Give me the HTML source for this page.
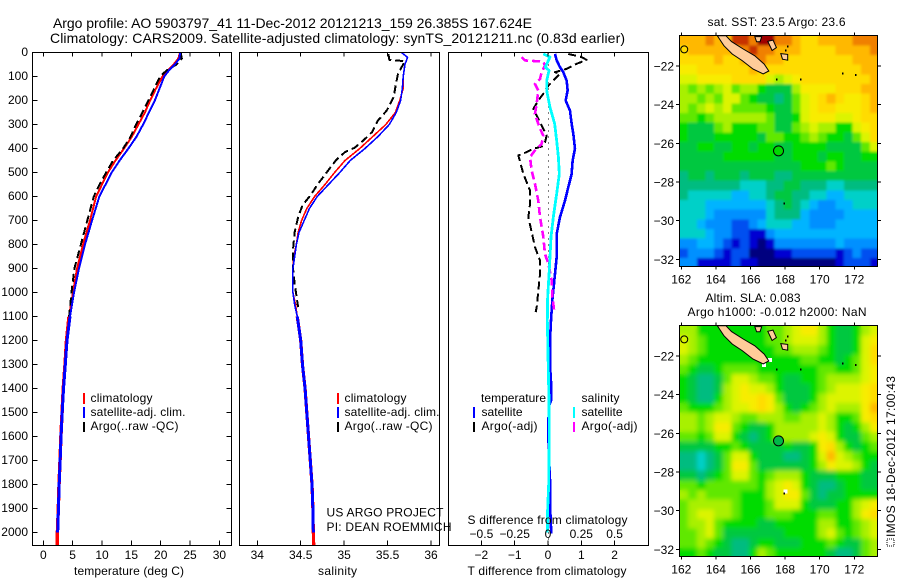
<!DOCTYPE html>
<html lang="en">
<head>
<meta charset="utf-8">
<title>Argo profile 5903797_41</title>
<style>
  html, body { margin: 0; padding: 0; background: #fff; }
  svg { display: block; font-family: "Liberation Sans", sans-serif; font-size: 12px; fill: #000; }
  text { fill: #000; stroke: none; }
  .crisp { shape-rendering: crispEdges; }
  .frame { fill: none; stroke: #000; stroke-width: 1; shape-rendering: crispEdges; }
</style>
</head>
<body>
<svg id="chart" xmlns="http://www.w3.org/2000/svg" width="900" height="580" viewBox="0 0 900 580">
  <defs>
    <clipPath id="clip-map-sst"><rect x="680" y="36" width="197.5" height="230.5"/></clipPath>
    <clipPath id="clip-map-sla"><rect x="680" y="326" width="197.5" height="230.5"/></clipPath>
    <clipPath id="clip-p1"><rect x="33" y="53" width="198" height="492"/></clipPath>
    <clipPath id="clip-p2"><rect x="240" y="53" width="199" height="492"/></clipPath>
    <clipPath id="clip-p3"><rect x="449" y="53" width="199" height="492"/></clipPath>
    <filter id="soften-sst" filterUnits="userSpaceOnUse" x="670" y="26" width="220" height="250">
      <feGaussianBlur in="SourceGraphic" stdDeviation="1.4" result="b"/>
      <feMerge><feMergeNode in="SourceGraphic"/><feMergeNode in="b"/></feMerge>
    </filter>
    <filter id="soften-sla" filterUnits="userSpaceOnUse" x="670" y="316" width="220" height="250">
      <feGaussianBlur in="SourceGraphic" stdDeviation="2.4" result="b"/>
      <feMerge><feMergeNode in="SourceGraphic"/><feMergeNode in="b"/></feMerge>
    </filter>
  </defs>

  <text x="53" y="28" font-size="14" textLength="479" lengthAdjust="spacing">Argo profile: AO 5903797_41 11-Dec-2012 20121213_159 26.385S 167.624E</text>
  <text x="50" y="43" font-size="14" textLength="575" lengthAdjust="spacing">Climatology: CARS2009. Satellite-adjusted climatology: synTS_20121211.nc (0.83d earlier)</text>

  <g id="panel-temperature"></g>
  <g id="panel-salinity"></g>
  <g id="panel-difference"></g>
  <g id="map-sst"></g>
  <g id="map-sla"></g>

  <text x="74" y="575" textLength="110" lengthAdjust="spacing">temperature (deg C)</text>
  <text x="318" y="575" textLength="39" lengthAdjust="spacing">salinity</text>
  <text x="467.5" y="575" textLength="159" lengthAdjust="spacing">T difference from climatology</text>
  <text x="467.5" y="524" textLength="160" lengthAdjust="spacing">S difference from climatology</text>

  <g>
    <rect class="crisp" x="83" y="393" width="2" height="11" fill="#ff0000"/>
    <rect class="crisp" x="83" y="407" width="2" height="11" fill="#0000ff"/>
    <rect class="crisp" x="83" y="422" width="2" height="10" fill="#000000"/>
    <text x="90.5" y="402" textLength="62" lengthAdjust="spacing">climatology</text>
    <text x="90.5" y="416" textLength="95" lengthAdjust="spacing">satellite-adj. clim.</text>
    <text x="90.5" y="430" textLength="88" lengthAdjust="spacing">Argo(..raw -QC)</text>
  </g>
  <g>
    <rect class="crisp" x="337" y="393" width="2" height="11" fill="#ff0000"/>
    <rect class="crisp" x="337" y="407" width="2" height="11" fill="#0000ff"/>
    <rect class="crisp" x="337" y="422" width="2" height="10" fill="#000000"/>
    <text x="344.5" y="402" textLength="62" lengthAdjust="spacing">climatology</text>
    <text x="344.5" y="416" textLength="95" lengthAdjust="spacing">satellite-adj. clim.</text>
    <text x="344.5" y="430" textLength="88" lengthAdjust="spacing">Argo(..raw -QC)</text>
  </g>
  <g>
    <text x="481" y="402" textLength="65" lengthAdjust="spacing">temperature</text>
    <rect class="crisp" x="473" y="407" width="2" height="11" fill="#0000ff"/>
    <rect class="crisp" x="473" y="422" width="2" height="10" fill="#000000"/>
    <text x="481.5" y="416" textLength="41" lengthAdjust="spacing">satellite</text>
    <text x="481.5" y="430" textLength="56" lengthAdjust="spacing">Argo(-adj)</text>
    <text x="581.5" y="402" textLength="38" lengthAdjust="spacing">salinity</text>
    <rect class="crisp" x="573" y="407" width="2" height="11" fill="#00ffff"/>
    <rect class="crisp" x="573" y="422" width="2" height="10" fill="#ff00ff"/>
    <text x="581.5" y="416" textLength="41" lengthAdjust="spacing">satellite</text>
    <text x="581.5" y="430" textLength="56" lengthAdjust="spacing">Argo(-adj)</text>
  </g>

  <text x="326.5" y="516.5" textLength="117" lengthAdjust="spacing">US ARGO PROJECT</text>
  <text x="326.5" y="531" textLength="125" lengthAdjust="spacing">PI: DEAN ROEMMICH</text>

  <text x="707.5" y="26" textLength="138" lengthAdjust="spacing">sat. SST: 23.5 Argo: 23.6</text>
  <text x="705.5" y="302" textLength="95" lengthAdjust="spacing">Altim. SLA: 0.083</text>
  <text x="687.5" y="316" textLength="179" lengthAdjust="spacing">Argo h1000: -0.012 h2000: NaN</text>

  <rect class="crisp" x="887" y="539" width="7" height="7" fill="none" stroke="#000" stroke-width="1" stroke-dasharray="1 1"/>
  <text transform="translate(895 537) rotate(-90)" textLength="161" lengthAdjust="spacing">IMOS 18-Dec-2012 17:00:43</text>
</svg>

<script>
// ---------- profile data ----------
const tempDepths = [0,25,50,75,100,150,200,250,300,350,400,450,500,550,600,700,800,900,1000,1100,1200,1300,1400,1500,1600,1700,1800,1900,2000,2054];
const tempClimatology = [23.3,23.0,22.2,21.2,20.3,19.2,18.2,17.3,16.2,15.1,13.75,12.3,11.0,10.0,9.0,7.95,6.76,5.74,5.06,4.38,3.95,3.7,3.4,3.2,3.0,2.85,2.68,2.56,2.4,2.4];
const tempSatellite = [23.3,23.2,22.4,21.4,20.6,19.8,19.0,18.0,17.0,15.9,14.5,13.0,11.65,10.6,9.55,8.3,7.1,6.08,5.23,4.55,4.04,3.75,3.45,3.22,3.02,2.87,2.7,2.58,2.45];
const argoTempDepths = [0,25,50,75,100,150,200,250,300,350,400,450,500,550,600,700,800,900,1000,1100];
const tempArgo = [23.4,23.6,22.7,21.0,19.9,18.9,17.9,16.9,15.8,14.9,13.6,11.9,10.7,9.6,8.6,7.5,6.4,5.3,4.8,4.4];

const salDepths = [0,20,50,100,150,200,250,300,350,400,450,500,550,600,650,700,750,800,850,900,1000,1050,1100,1200,1300,1400,1500,1600,1700,1800,1900,2000,2054];
const salClimatology = [35.66,35.73,35.70,35.68,35.68,35.64,35.59,35.48,35.33,35.18,35.01,34.89,34.78,34.66,34.57,34.51,34.47,34.45,34.42,34.41,34.41,34.44,34.46,34.50,34.52,34.55,34.57,34.59,34.61,34.63,34.64,34.645,34.65];
const salSatellite = [35.66,35.73,35.70,35.68,35.67,35.65,35.60,35.52,35.39,35.24,35.07,34.95,34.82,34.69,34.60,34.54,34.48,34.45,34.43,34.41,34.41,34.43,34.46,34.50,34.52,34.55,34.57,34.59,34.61,34.63,34.64,34.645];
const argoSalDepths = [6,31,36,89,144,186,242,283,332,367,397,415,447,499,547,596,637,686,749,825,894,964,1061];
const salArgo = [35.51,35.52,35.70,35.62,35.59,35.57,35.49,35.39,35.32,35.22,35.12,35.01,34.91,34.80,34.70,34.61,34.52,34.47,34.43,34.41,34.41,34.43,34.47];

const diffTSatDepths = [6,33,61,82,117,158,200,242,297,339,401,450,506,561,617,686,756,853,950,1033,1117,1200,1325,1394,1450,1478,1603,1783,1880,1978,2005];
const diffTSatellite = [0.21,0.26,0.36,0.46,0.56,0.59,0.53,0.66,0.71,0.76,0.81,0.74,0.71,0.61,0.51,0.36,0.26,0.26,0.19,0.13,0.09,0.06,0.07,0.1,0.09,0.02,0.01,0.06,0.06,0.09,0.1];
const diffSSatDepths = [6,19,61,75,117,158,228,297,367,436,506,589,686,769,853,922,1019,1117,1325,1450,1600,1800,1900,2000];
const diffSSatellite = [-0.035,0.015,-0.02,0.008,-0.01,-0.01,0.015,0.05,0.065,0.078,0.085,0.065,0.04,0.0225,0.015,0.008,-0.0025,-0.005,0.0025,0.0075,0.01,0.005,-0.0025,-0.005];
const diffTArgoDepths = [6,19,31,47,68,82,89,117,138,172,200,235,290,318,346,374,392,401,415,429,506,575,631,686,749,811,867,922,992,1061,1082];
const diffTArgo = [0.61,1.01,1.16,0.86,0.56,0.21,0.36,0.16,0.01,-0.14,-0.29,-0.44,-0.24,-0.14,-0.04,-0.09,-0.19,-0.44,-0.64,-0.89,-0.74,-0.54,-0.54,-0.59,-0.49,-0.39,-0.24,-0.24,-0.29,-0.34,-0.37];
const diffSArgoDepths = [19,33,38,54,82,110,131,158,214,256,318,346,381,408,436,492,547,617,686,769,839,881,950,1019,1082];
const diffSArgo = [-0.198,-0.173,-0.035,-0.023,-0.048,-0.06,-0.098,-0.073,-0.085,-0.098,-0.06,-0.035,-0.048,-0.098,-0.135,-0.123,-0.098,-0.073,-0.06,-0.035,-0.023,0.003,0.028,0.033,0.048];

// ---------- tick labels ----------
const depthTicks = [0,100,200,300,400,500,600,700,800,900,1000,1100,1200,1300,1400,1500,1600,1700,1800,1900,2000];
const tempTicks = [0,5,10,15,20,25,30];
const salTicks = [34,34.5,35,35.5,36];
const tDiffTicks = [-2,-1,0,1,2];
const sDiffTicks = [-0.5,-0.25,0,0.25,0.5];
const lonTicks = [162,164,166,168,170,172];
const latTicks = [-22,-24,-26,-28,-30,-32];

// ---------- map data: colour class per half-degree cell, north to south ----------
const sstCells = [
[14,14,14,15,14,14,16,16,15,17,17,15,15,14,13,13,14,14,14,14,15,15,15],
[13,14,14,14,14,14,14,15,16,15,15,14,14,14,13,13,13,13,14,14,14,14,15],
[13,13,13,13,14,13,13,14,15,15,14,14,13,13,13,13,13,13,13,13,14,14,14],
[12,12,13,13,13,13,13,13,14,13,13,13,13,13,13,13,13,13,13,13,13,14,14],
[11,11,12,12,12,12,13,13,13,13,11,10,11,12,13,13,13,13,13,13,13,13,14],
[10,9,10,9,10,11,9,10,10,8,7,7,7,10,12,12,12,12,13,13,13,14,14],
[10,10,9,10,9,11,11,9,8,7,7,6,7,9,11,12,13,14,13,12,12,13,14],
[10,9,10,11,10,11,9,9,9,9,8,7,7,9,11,12,13,13,12,12,12,13,14],
[9,9,8,9,10,10,10,10,10,10,9,7,7,8,11,12,12,12,11,11,12,13,13],
[8,7,7,7,9,10,8,8,8,9,9,7,7,9,10,11,10,10,8,8,11,12,13],
[8,7,7,7,8,8,8,8,8,7,9,9,8,8,9,10,9,8,8,7,9,11,13],
[7,7,8,8,7,7,8,8,7,8,8,7,7,8,8,8,8,7,7,7,7,9,11],
[7,7,7,7,7,8,8,8,8,8,8,7,7,8,8,8,7,8,8,7,7,8,8],
[7,7,7,7,7,7,7,7,7,7,7,7,7,7,8,8,8,9,8,7,7,7,7],
[6,7,7,6,7,7,7,6,7,7,7,6,6,7,7,7,7,7,7,7,7,7,7],
[6,6,6,6,6,6,6,5,5,5,6,6,7,7,6,6,6,5,5,6,6,6,6],
[6,5,5,5,5,5,4,4,5,5,6,7,7,6,6,5,5,4,4,5,5,5,5],
[5,5,5,4,4,4,4,4,4,4,5,6,7,6,5,4,3,3,4,4,5,5,5],
[5,5,5,4,3,3,3,3,3,3,5,6,6,6,4,3,3,3,3,4,4,4,4],
[5,5,4,3,3,3,2,2,3,4,5,5,5,4,4,3,3,3,4,4,4,4,4],
[5,5,5,4,3,3,2,2,1,1,3,4,4,4,4,4,4,4,4,4,4,4,4],
[3,3,4,4,3,2,1,2,1,0,1,3,3,3,3,3,3,3,4,3,3,3,3],
[2,3,3,3,2,1,2,2,0,0,0,1,1,2,2,2,2,2,1,2,3,2,2],
[3,3,1,1,1,1,2,1,1,0,0,0,0,0,0,0,0,0,1,2,2,2,1]
];
const slaCells = [
[10,10,8,8,8,8,8,8,8,8,9,9,10,11,12,12,10,8,7,7,8,10,11],
[11,10,9,8,8,8,8,8,8,8,9,9,10,11,11,11,10,8,7,7,8,11,12],
[11,10,9,8,8,8,8,8,8,8,8,9,9,10,10,10,9,8,7,7,8,11,13],
[10,9,8,8,8,8,8,8,8,8,8,8,8,8,9,9,8,8,7,8,9,11,13],
[9,8,7,7,8,9,9,9,9,8,8,8,8,8,8,8,9,9,8,8,9,11,12],
[8,7,6,6,7,9,11,11,10,9,9,8,7,7,8,8,9,10,10,10,10,11,12],
[8,7,6,6,7,10,11,12,11,11,10,8,7,7,7,8,9,10,11,11,11,12,13],
[8,7,6,6,8,10,11,12,12,13,12,9,7,7,7,8,10,11,11,11,11,12,13],
[9,8,8,8,9,10,11,11,12,13,12,10,8,7,8,9,10,11,10,10,10,12,14],
[10,10,9,10,11,11,10,9,9,10,10,10,9,9,10,10,11,10,8,8,9,12,13],
[10,10,9,10,12,12,9,8,7,7,8,10,10,10,10,10,11,10,8,7,8,10,12],
[9,9,8,9,11,11,8,7,6,7,8,10,10,10,10,11,12,11,8,7,7,9,10],
[7,7,7,7,8,8,9,8,7,7,7,7,8,7,7,8,12,13,10,8,7,8,9],
[6,6,5,6,7,9,11,11,8,7,7,7,6,6,7,8,11,14,11,10,9,8,8],
[6,6,5,6,7,9,12,12,9,7,7,7,7,7,7,8,10,12,11,11,10,8,7],
[7,7,6,7,8,9,11,11,9,8,9,10,10,10,8,7,7,7,8,8,8,7,7],
[9,9,8,9,9,9,9,9,9,8,10,11,12,11,8,7,6,6,7,8,8,7,7],
[10,9,10,9,9,9,9,8,8,8,10,11,12,12,9,7,6,7,7,8,8,8,8],
[9,10,10,10,10,10,9,8,8,8,9,11,11,11,8,7,7,7,8,8,10,11,12],
[9,10,11,11,10,10,9,8,8,8,9,9,9,8,8,8,9,9,8,8,10,12,13],
[9,10,10,11,9,8,8,8,8,7,7,8,8,8,8,8,10,10,8,8,9,10,11],
[9,9,10,11,9,7,7,7,7,7,7,7,8,8,8,8,10,11,9,8,9,10,11],
[9,9,10,9,8,7,6,6,7,8,8,7,7,7,8,8,8,9,8,7,7,9,10],
[8,8,9,8,7,7,6,6,8,10,9,8,8,8,8,8,8,7,6,6,7,9,10]
];
const colormap = ['#00007f','#0000d2','#0050f0','#0090ff','#00b4ff','#00d0c8','#00bc80','#00c840','#00dc00','#60e800','#a8f000','#dcf400','#f8ec00','#ffdc00','#ffb800','#f08000','#c83000','#a00000'];

// ---------- coastlines and map markers (lon, lat) ----------
const coastLons = [164.08,164.58,164.9,165.58,166.25,166.79,167.06,166.73,166.15,165.52,164.94,164.46];
const coastLats = [-20.43,-20.43,-20.74,-21.12,-21.47,-21.9,-22.26,-22.41,-22.16,-21.72,-21.38,-20.95];
const lifouLons = [167.0,167.3,167.5,167.25];
const lifouLats = [-20.72,-20.66,-21.05,-21.2];
const mareLons = [167.75,168.15,168.15,167.85];
const mareLats = [-21.36,-21.4,-21.7,-21.65];
const belepLons = [166.25,166.65,166.55,166.35];
const belepLats = [-20.48,-20.48,-20.75,-20.75];
const dotLons = [167.46,168.85,171.29,172.04,167.92,168.1,168.0];
const dotLats = [-22.64,-22.64,-22.33,-22.41,-29.07,-20.95,-21.15];
const argoLon = 167.62;
const argoLat = -26.39;
const slaGapLons = [166.65,167.0,167.1,167.9,166.2,165.5];
const slaGapLats = [-22.35,-22.1,-20.7,-28.9,-21.7,-21.3];

// ---------- scales ----------
const NS = 'http://www.w3.org/2000/svg';
const yDepth = d => 52.5 + d * 0.24;
const xTemp = t => 43.3 + t * 5.87;
const xSal = s => 257.3 + (s - 34) * 86.85;
const xTDiff = v => 548 + v * 33.3;
const xSDiff = v => 548 + v * 133.2;
const xLon = l => 681.3 + (l - 162) * 17.3;
const yLatSst = l => 66 + (-22 - l) * 19.33;
const yLatSla = l => 356 + (-22 - l) * 19.33;
const DEEP_DEPTH = 1100;

function svgEl(tag, parent) {
  const el = document.createElementNS(NS, tag);
  parent.appendChild(el);
  return el;
}
function fmtTick(v) {
  return String(v).replace('-', '\u2212');
}
function addLine(parent, x1, y1, x2, y2) {
  const el = svgEl('line', parent);
  el.setAttribute('x1', x1);
  el.setAttribute('y1', y1);
  el.setAttribute('x2', x2);
  el.setAttribute('y2', y2);
  el.setAttribute('stroke', '#000');
  el.setAttribute('stroke-width', 1);
  el.setAttribute('class', 'crisp');
  
  
  return el;
}
function addLabel(parent, x, y, str, anchor) {
  const el = svgEl('text', parent);
  el.setAttribute('x', x);
  el.setAttribute('y', y);
  el.setAttribute('text-anchor', anchor);
  el.textContent = str;
  
  
  return el;
}
function addFrame(parent, x, y, w, h) {
  const el = svgEl('rect', parent);
  el.setAttribute('x', x);
  el.setAttribute('y', y);
  el.setAttribute('width', w);
  el.setAttribute('height', h);
  el.setAttribute('class', 'frame');
  
  
  return el;
}
function addCurve(parent, clip, xs, depths, xScale, color, width, dash) {
  const el = svgEl('polyline', parent);
  const pts = xs.map((v, i) => xScale(v).toFixed(2) + ',' + yDepth(depths[i]).toFixed(2));
  el.setAttribute('points', pts.join(' '));
  el.setAttribute('fill', 'none');
  el.setAttribute('stroke', color);
  el.setAttribute('stroke-width', width);
  el.setAttribute('stroke-linejoin', 'round');
  el.setAttribute('clip-path', 'url(#' + clip + ')');
  el.setAttribute('class', 'crisp');
  if (dash) el.setAttribute('stroke-dasharray', dash);
  
  
  return el;
}
// The reference's near-vertical deep sections read wider than its sloped upper sections.
function addDeepCurve(parent, clip, xs, depths, xScale, color, width) {
  const n = Math.min(xs.length, depths.length);
  let start = 0;
  while (start < n && depths[start] < DEEP_DEPTH) start++;
  addCurve(parent, clip, xs.slice(start, n), depths.slice(start, n), xScale, color, width);
}

const Y_TOP = 52.5, Y_BOT = 545.5;

// ---------- temperature panel ----------
const p1 = document.getElementById('panel-temperature');
addCurve(p1, 'clip-p1', tempClimatology, tempDepths, xTemp, '#ff0000', 2);
addCurve(p1, 'clip-p1', tempArgo, argoTempDepths, xTemp, '#000000', 2, '8 4');
addCurve(p1, 'clip-p1', tempSatellite, tempDepths, xTemp, '#0000ff', 2);
addDeepCurve(p1, 'clip-p1', tempClimatology, tempDepths, xTemp, '#ff0000', 3.4);
addDeepCurve(p1, 'clip-p1', tempSatellite, tempDepths, xTemp, '#0000ff', 3);
addFrame(p1, 32.5, Y_TOP, 199, Y_BOT - Y_TOP);
tempTicks.forEach(t => {
  addLine(p1, xTemp(t), Y_TOP, xTemp(t), Y_TOP + 4);
  addLine(p1, xTemp(t), Y_BOT, xTemp(t), Y_BOT - 5);
  addLabel(p1, xTemp(t), 559, fmtTick(t), 'middle');
});
depthTicks.forEach(d => {
  addLine(p1, 32.5, yDepth(d), 37.5, yDepth(d));
  addLine(p1, 231.5, yDepth(d), 226.5, yDepth(d));
  addLabel(p1, 28, yDepth(d) + 3.5, fmtTick(d), 'end');
});

// ---------- salinity panel ----------
const p2 = document.getElementById('panel-salinity');
addCurve(p2, 'clip-p2', salClimatology, salDepths, xSal, '#ff0000', 1.6);
addCurve(p2, 'clip-p2', salArgo, argoSalDepths, xSal, '#000000', 2, '8 4');
addCurve(p2, 'clip-p2', salSatellite, salDepths, xSal, '#0000ff', 1.6);
addDeepCurve(p2, 'clip-p2', salClimatology, salDepths, xSal, '#ff0000', 3.2);
addDeepCurve(p2, 'clip-p2', salSatellite, salDepths, xSal, '#0000ff', 3);
addFrame(p2, 239.5, Y_TOP, 200, Y_BOT - Y_TOP);
salTicks.forEach(s => {
  addLine(p2, xSal(s), Y_TOP, xSal(s), Y_TOP + 4);
  addLine(p2, xSal(s), Y_BOT, xSal(s), Y_BOT - 5);
  addLabel(p2, xSal(s), 559, fmtTick(s), 'middle');
});

// ---------- difference panel ----------
const p3 = document.getElementById('panel-difference');
const zeroLine = svgEl('line', p3);
zeroLine.setAttribute('x1', xTDiff(0) + 0.5);
zeroLine.setAttribute('y1', Y_TOP);
zeroLine.setAttribute('x2', xTDiff(0) + 0.5);
zeroLine.setAttribute('y2', Y_BOT);
zeroLine.setAttribute('stroke', '#000');
zeroLine.setAttribute('stroke-width', 1);
zeroLine.setAttribute('stroke-dasharray', '1 5');
zeroLine.setAttribute('class', 'crisp');


addCurve(p3, 'clip-p3', diffTArgo, diffTArgoDepths, xTDiff, '#000000', 2, '8 4');
addCurve(p3, 'clip-p3', diffTSatellite, diffTSatDepths, xTDiff, '#0000ff', 2.6);
addCurve(p3, 'clip-p3', diffSArgo, diffSArgoDepths, xSDiff, '#ff00ff', 2.6, '8 4');
addCurve(p3, 'clip-p3', diffSSatellite, diffSSatDepths, xSDiff, '#00ffff', 2.8);
addFrame(p3, 448.5, Y_TOP, 200, Y_BOT - Y_TOP);
tDiffTicks.forEach(v => {
  addLine(p3, xTDiff(v), Y_TOP, xTDiff(v), Y_TOP + 4);
  addLine(p3, xTDiff(v), Y_BOT, xTDiff(v), Y_BOT - 5);
  addLabel(p3, xTDiff(v), 559, fmtTick(v), 'middle');
});
sDiffTicks.forEach(v => {
  addLabel(p3, xSDiff(v), 538, fmtTick(v), 'middle');
});

// ---------- maps ----------
function drawMap(groupId, clipId, filterId, cells, yLat, top, bottom, argoFill) {
  const g = document.getElementById(groupId);
  const cellW = xLon(162.5) - xLon(162);
  const cellH = yLat(-22.5) - yLat(-22);
  const heat = svgEl('g', g);
  heat.setAttribute('clip-path', 'url(#' + clipId + ')');
  
  
  const cellLayer = svgEl('g', heat);
  cellLayer.setAttribute('filter', 'url(#' + filterId + ')');
  
  
  cells.forEach((row, r) => {
    row.forEach((v, c) => {
      const el = svgEl('rect', cellLayer);
      el.setAttribute('x', xLon(161.9 + c * 0.5).toFixed(2));
      el.setAttribute('y', yLat(-20.43 - r * 0.5).toFixed(2));
      el.setAttribute('width', (cellW + 0.4).toFixed(2));
      el.setAttribute('height', (cellH + 0.4).toFixed(2));
      el.setAttribute('fill', colormap[v]);
      el.setAttribute('class', 'crisp');
      
      
    });
  });
  if (groupId === 'map-sla') {
    slaGapLons.forEach((lon, i) => {
      const el = svgEl('rect', heat);
      el.setAttribute('x', xLon(lon).toFixed(2));
      el.setAttribute('y', yLat(slaGapLats[i]).toFixed(2));
      el.setAttribute('width', 4);
      el.setAttribute('height', 4);
      el.setAttribute('fill', '#fff');
      el.setAttribute('class', 'crisp');
      
      
    });
  }
  [[coastLons, coastLats], [lifouLons, lifouLats], [mareLons, mareLats], [belepLons, belepLats]].forEach(shape => {
    const el = svgEl('polygon', heat);
    el.setAttribute('points', shape[0].map((lon, i) => xLon(lon).toFixed(1) + ',' + yLat(shape[1][i]).toFixed(1)).join(' '));
    el.setAttribute('fill', '#ffcc99');
    el.setAttribute('stroke', '#000');
    el.setAttribute('stroke-width', 1);
    
    
  });
  const reef = svgEl('circle', heat);
  reef.setAttribute('cx', xLon(162.17));
  reef.setAttribute('cy', yLat(-21.14));
  reef.setAttribute('r', 3.5);
  reef.setAttribute('fill', 'none');
  reef.setAttribute('stroke', '#000');
  
  
  dotLons.forEach((lon, i) => {
    const el = svgEl('rect', heat);
    el.setAttribute('x', xLon(lon).toFixed(1));
    el.setAttribute('y', yLat(dotLats[i]).toFixed(1));
    el.setAttribute('width', 1.5);
    el.setAttribute('height', 2);
    el.setAttribute('fill', '#000');
    el.setAttribute('class', 'crisp');
    
    
  });
  const argo = svgEl('circle', heat);
  argo.setAttribute('cx', xLon(argoLon));
  argo.setAttribute('cy', yLat(argoLat));
  argo.setAttribute('r', 5);
  argo.setAttribute('fill', argoFill);
  argo.setAttribute('stroke', '#000');
  argo.setAttribute('stroke-width', 1);
  
  
  addFrame(g, 679.5, top, 198, bottom - top);
  lonTicks.forEach(l => {
    addLine(g, xLon(l), top, xLon(l), top - 3);
    addLine(g, xLon(l), bottom, xLon(l), bottom + 3);
    addLabel(g, xLon(l), bottom + 17, fmtTick(l), 'middle');
  });
  latTicks.forEach(l => {
    addLine(g, 679.5, yLat(l), 676, yLat(l));
    addLine(g, 877.5, yLat(l), 881, yLat(l));
    addLabel(g, 674, yLat(l) + 4.5, fmtTick(l), 'end');
  });
}
drawMap('map-sst', 'clip-map-sst', 'soften-sst', sstCells, yLatSst, 35.5, 266.5, '#00d800');
drawMap('map-sla', 'clip-map-sla', 'soften-sla', slaCells, yLatSla, 325.5, 556.5, '#00b848');
</script>
</body>
</html>
